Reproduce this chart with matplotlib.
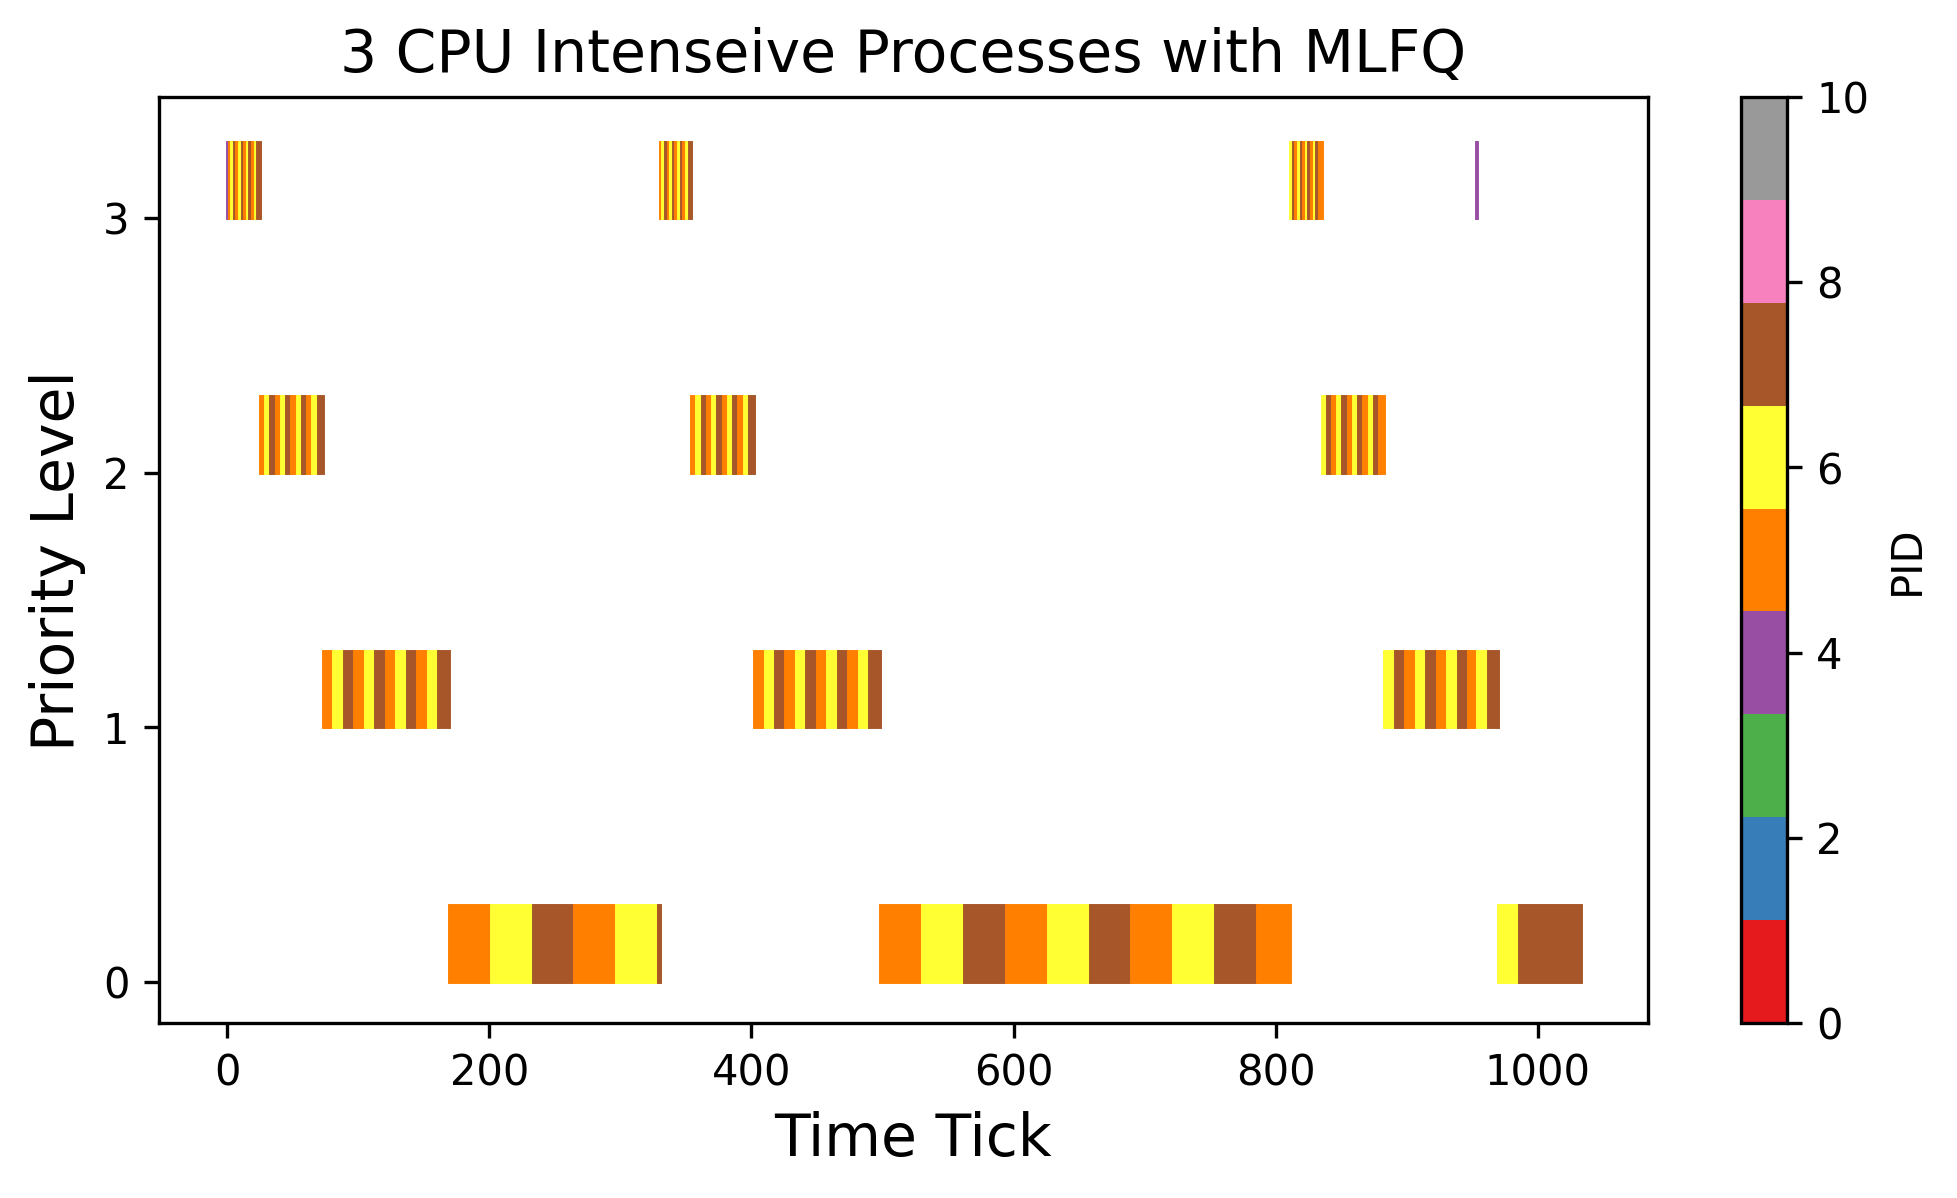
import matplotlib
matplotlib.use('Agg')
import matplotlib.pyplot as plt
from matplotlib import cm, colors

# level 3 (highest priority) segments: start tick, duration, pid
l3_start = [0, 1, 3, 5, 7, 9, 11, 13, 15, 17, 19, 21, 23,
            330, 332, 334, 336, 338, 340, 342, 344, 346, 348, 350, 352,
            811, 813, 815, 817, 819, 821, 823, 825, 827, 829, 831, 833,
            953]
l3_dur = [1, 2, 2, 2, 2, 2, 2, 2, 2, 2, 2, 2, 2,
          2, 2, 2, 2, 2, 2, 2, 2, 2, 2, 2, 2,
          2, 2, 2, 2, 2, 2, 2, 2, 2, 2, 2, 2,
          1]
l3_pid = [4, 5, 6, 7, 5, 6, 7, 5, 6, 7, 5, 6, 7,
          5, 6, 7, 5, 6, 7, 5, 6, 7, 5, 6, 7,
          6, 7, 5, 6, 7, 5, 6, 7, 5, 6, 7, 5,
          4]

# level 2
l2_start = [25, 29, 33, 37, 41, 45, 49, 53, 57, 61, 65, 69,
            354, 358, 362, 366, 370, 374, 378, 382, 386, 390, 394, 398,
            835, 839, 843, 847, 851, 855, 859, 863, 867, 871, 875, 879]
l2_dur = [4] * 36
l2_pid = [5, 6, 7, 5, 6, 7, 5, 6, 7, 5, 6, 7,
          5, 6, 7, 5, 6, 7, 5, 6, 7, 5, 6, 7,
          6, 7, 5, 6, 7, 5, 6, 7, 5, 6, 7, 5]

# level 1
l1_start = [73, 81, 89, 97, 105, 113, 121, 129, 137, 145, 153, 161,
            402, 410, 418, 426, 434, 442, 450, 458, 466, 474, 482, 490,
            883, 891, 899, 907, 915, 923, 931, 939, 947, 954, 962]
l1_dur = [8, 8, 8, 8, 8, 8, 8, 8, 8, 8, 8, 8,
          8, 8, 8, 8, 8, 8, 8, 8, 8, 8, 8, 8,
          8, 8, 8, 8, 8, 8, 8, 8, 6, 8, 8]
l1_pid = [5, 6, 7, 5, 6, 7, 5, 6, 7, 5, 6, 7,
          5, 6, 7, 5, 6, 7, 5, 6, 7, 5, 6, 7,
          6, 7, 5, 6, 7, 5, 6, 7, 5, 6, 7]

# level 0 (lowest priority)
l0_start = [169, 201, 233, 265, 297, 329,
            498, 530, 562, 594, 626, 658, 690, 722, 754, 786,
            970, 986]
l0_dur = [32, 32, 32, 32, 32, 1,
          32, 32, 32, 32, 32, 32, 32, 32, 32, 25,
          16, 47]
l0_pid = [5, 6, 7, 5, 6, 7,
          5, 6, 7, 5, 6, 7, 5, 6, 7, 5,
          6, 7]

levels = [0, 1, 2, 3]
level_data = {
    0: (l0_start, l0_dur, l0_pid),
    1: (l1_start, l1_dur, l1_pid),
    2: (l2_start, l2_dur, l2_pid),
    3: (l3_start, l3_dur, l3_pid),
}

cmap = plt.get_cmap('Set1')
norm = colors.Normalize(vmin=0, vmax=10)

fig = plt.figure(figsize=(1957.2 / 300, 1198.2 / 300), dpi=300)
ax = fig.add_axes([0.081, 0.1461, 0.7608, 0.7727])
cax = fig.add_axes([0.8896, 0.1461, 0.0235, 0.7727])

for lvl in levels:
    starts, durs, pids = level_data[lvl]
    cols = [cmap(norm(p)) for p in pids]
    ax.bar(starts, 0.3, width=durs, bottom=lvl, align='edge',
           color=cols, edgecolor=cols, linewidth=0.7)

ax.set_xlim(-52.4, 1083.8)
ax.set_ylim(-0.162, 3.475)
ax.set_yticks(levels)
ax.set_title('3 CPU Intenseive Processes with MLFQ', fontsize=14)
ax.set_xlabel('Time Tick', fontsize=14, x=0.5064)
ax.set_ylabel('Priority Level', fontsize=14)

sm = cm.ScalarMappable(norm=norm, cmap=cmap)
fig.colorbar(sm, cax=cax, label='PID')

fig.savefig('out.png', dpi=300)
